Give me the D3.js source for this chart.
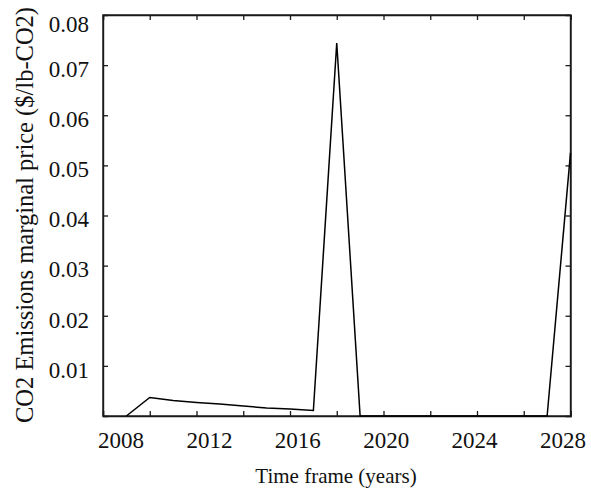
<!DOCTYPE html>
<html>
<head>
<meta charset="utf-8">
<script src="https://cdn.jsdelivr.net/npm/d3@7"></script>
<style>
  html, body { margin: 0; padding: 0; background: #fff; }
</style>
</head>
<body>
<div id="chart"></div>
<script>
(function () {
  'use strict';

  // data
  var years = [2009, 2010, 2011, 2012, 2013, 2014, 2015, 2016, 2017, 2018,
    2019, 2020, 2021, 2022, 2023, 2024, 2025, 2026, 2027, 2028];
  var prices = [0, 0.0037, 0.0031, 0.0027, 0.0024, 0.0020, 0.0016, 0.0014, 0.0011, 0.0744,
    0, 0, 0, 0, 0, 0, 0, 0, 0, 0.0525];
  var xTickValues = [2008, 2010, 2012, 2014, 2016, 2018, 2020, 2022, 2024, 2026, 2028];
  var xLabelValues = [2008, 2012, 2016, 2020, 2024, 2028];
  var yTickValues = [0.01, 0.02, 0.03, 0.04, 0.05, 0.06, 0.07];
  var yLabelValues = [0.01, 0.02, 0.03, 0.04, 0.05, 0.06, 0.07, 0.08];
  var xTitle = 'Time frame (years)';
  var yTitle = 'CO2 Emissions marginal price ($/lb-CO2)';

  var width = 591;
  var height = 492;
  var left = 103, right = 570.5, top = 15, bottom = 416;
  var tick = 5;
  var ink = '#1a1a1a';
  var serif = '"Liberation Serif", "DejaVu Serif", serif';

  var svg = d3.select('#chart').append('svg')
    .attr('width', width)
    .attr('height', height)
    .attr('font-family', serif)
    .attr('fill', '#111');

  var x = d3.scaleLinear().domain([2008, 2028]).range([left, right]);
  var y = d3.scaleLinear().domain([0, 0.08]).range([bottom, top]);
  // labels sit a little inside the ends, like the original plot program does
  var xLabel = d3.scaleLinear().domain([2008, 2028]).range([121, 563]);

  // frame with inward ticks on all four sides
  var axes = svg.append('g').attr('class', 'axes');
  axes.append('g')
    .attr('transform', 'translate(0,' + bottom + ')')
    .call(d3.axisTop(x).tickValues(xTickValues).tickSize(tick).tickFormat(''));
  axes.append('g')
    .attr('transform', 'translate(0,' + top + ')')
    .call(d3.axisBottom(x).tickValues(xTickValues).tickSize(tick).tickFormat(''));
  axes.append('g')
    .attr('transform', 'translate(' + left + ',0)')
    .call(d3.axisRight(y).tickValues(yTickValues).tickSize(tick).tickFormat(''));
  axes.append('g')
    .attr('transform', 'translate(' + right + ',0)')
    .call(d3.axisLeft(y).tickValues(yTickValues).tickSize(tick).tickFormat(''));
  axes.selectAll('path.domain').attr('stroke', ink).attr('stroke-width', 1.4);
  axes.selectAll('.tick line').attr('stroke', ink).attr('stroke-width', 1.3);

  svg.append('rect')
    .attr('x', left).attr('y', top)
    .attr('width', right - left).attr('height', bottom - top)
    .attr('fill', 'none').attr('stroke', ink).attr('stroke-width', 1.4);

  // tick labels
  svg.append('g').selectAll('text')
    .data(xLabelValues)
    .enter().append('text')
    .attr('x', function (d) { return xLabel(d); })
    .attr('y', 448)
    .attr('text-anchor', 'middle')
    .attr('font-family', serif)
    .attr('font-size', 23)
    .text(function (d) { return d; });

  svg.append('g').selectAll('text')
    .data(yLabelValues)
    .enter().append('text')
    .attr('x', 89)
    .attr('y', function (d) { return Math.max(y(d) + 4, 24) + 7.8; })
    .attr('text-anchor', 'end')
    .attr('font-family', serif)
    .attr('font-size', 23)
    .text(function (d) { return d3.format('.2f')(d); });

  // axis titles
  svg.append('text')
    .attr('x', 336)
    .attr('y', 483)
    .attr('text-anchor', 'middle')
    .attr('font-family', serif)
    .attr('font-size', 21)
    .text(xTitle);

  svg.append('text')
    .attr('transform', 'translate(33,215) rotate(-90)')
    .attr('text-anchor', 'middle')
    .attr('font-family', serif)
    .attr('font-size', 24.5)
    .text(yTitle);

  // price series
  var line = d3.line()
    .x(function (d, i) { return x(years[i]); })
    .y(function (d) { return y(d); });

  svg.append('path')
    .datum(prices)
    .attr('d', line)
    .attr('fill', 'none')
    .attr('stroke', '#000')
    .attr('stroke-width', 1.5)
    .attr('stroke-linejoin', 'miter');
})();
</script>
</body>
</html>
